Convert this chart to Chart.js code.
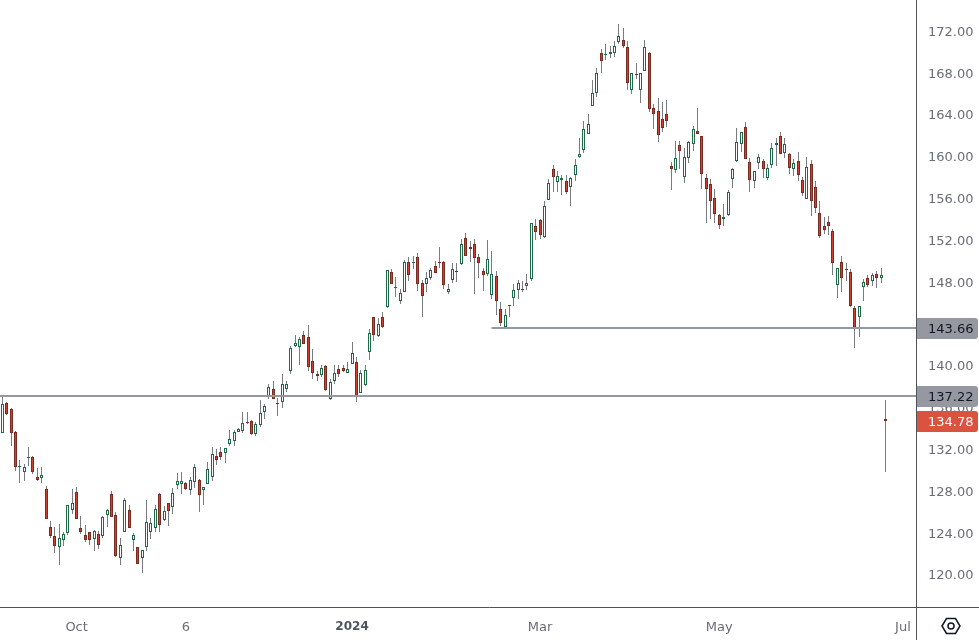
<!DOCTYPE html>
<html>
<head>
<meta charset="utf-8">
<title>Candles</title>
<script src="https://cdn.jsdelivr.net/npm/chart.js@4"></script>
<style>
  html, body { margin: 0; padding: 0; background: #fff; overflow: hidden; }
  canvas { display: block; }
</style>
</head>
<body>
<canvas id="chart" width="979" height="640"></canvas>
<script>
const opens = [
  133.62,136.43,135.85,133.65,130.38,129.89,131.24,131.26,129.35,129.32,
  128.20,124.57,123.70,122.65,123.39,124.06,126.26,127.91,124.47,123.80,
  124.09,123.48,123.90,123.77,125.78,127.72,125.71,121.66,124.15,126.19,
  123.39,122.65,121.66,122.72,124.15,124.53,127.72,125.30,126.86,126.54,
  128.65,128.74,128.77,128.17,128.93,129.06,128.17,128.74,129.41,131.36,
  131.74,131.71,132.57,132.86,133.72,133.81,134.60,134.73,133.46,134.35,
  135.63,137.00,137.77,136.46,136.59,137.83,139.55,141.94,141.79,142.93,
  142.74,140.45,139.23,139.17,139.97,136.88,138.60,139.68,139.78,139.36,
  140.22,140.35,137.45,138.15,141.37,144.65,142.90,144.65,145.68,148.96,
  147.51,146.25,147.11,149.92,149.90,150.40,147.91,147.88,148.45,149.53,
  149.95,149.92,147.11,148.26,149.08,149.73,152.22,151.39,151.64,150.43,
  149.09,148.84,146.83,148.61,145.42,143.77,145.83,146.54,147.31,147.36,
  147.69,148.36,153.36,153.94,152.38,155.92,158.82,157.57,157.83,157.67,
  157.16,158.31,159.97,160.70,162.23,164.91,166.09,169.91,169.80,169.88,
  169.98,171.03,171.16,170.49,166.44,167.92,166.44,168.25,169.91,164.65,
  164.36,163.60,164.08,159.10,158.78,161.11,158.11,159.93,161.27,162.45,
  161.97,157.95,157.38,156.04,154.42,154.03,154.48,157.86,159.65,161.21,
  162.83,159.48,157.66,159.45,159.58,158.01,159.19,161.17,161.97,160.40,
  160.25,158.87,159.58,157.76,156.00,159.29,157.09,154.60,153.36,153.74,
  152.88,147.78,149.91,149.26,148.96,145.51,144.72,147.59,148.38,148.16,
  148.77,148.45,134.95
];
const highs = [
  137.13,136.56,135.98,133.78,131.01,130.62,132.25,131.36,130.24,130.34,
  128.49,125.17,124.60,124.88,124.09,126.70,128.23,128.42,125.65,124.79,
  124.15,124.28,124.21,125.62,126.29,128.04,126.03,123.55,127.37,126.67,
  124.00,122.65,122.37,127.15,125.46,126.70,127.85,126.61,126.86,128.33,
  129.76,129.86,128.93,129.35,130.62,129.16,128.46,130.78,132.22,132.03,
  132.22,132.19,133.88,133.88,134.04,135.56,135.56,134.83,134.60,136.74,
  136.36,138.28,138.56,136.97,139.23,138.56,141.91,142.97,142.74,143.35,
  143.92,141.63,139.52,140.10,140.10,138.76,140.10,140.10,140.10,140.38,
  142.30,140.86,139.62,140.10,143.54,144.65,144.59,145.17,149.18,149.28,
  148.51,147.33,150.11,150.40,150.52,150.81,148.20,148.99,149.37,150.04,
  151.38,150.01,147.81,149.85,149.85,152.15,152.69,151.96,152.15,150.72,
  149.38,152.06,151.00,149.09,146.13,145.46,145.84,147.85,148.23,148.13,
  148.80,153.68,154.07,154.10,155.79,157.86,159.23,158.66,158.27,158.27,
  158.08,159.81,161.78,163.41,164.11,167.36,168.51,170.33,170.81,170.61,
  171.09,172.72,172.34,171.09,168.03,168.99,168.00,171.19,170.01,165.07,
  165.64,165.26,165.45,159.52,161.53,161.53,160.82,161.53,162.93,164.68,
  161.97,158.37,157.89,156.93,154.54,155.50,156.84,158.94,162.77,162.36,
  163.31,159.86,158.68,160.28,159.80,159.32,161.33,161.81,162.38,161.81,
  160.34,159.80,160.47,158.08,159.99,159.70,157.69,155.78,154.25,154.35,
  153.10,149.34,150.52,149.85,149.28,145.74,145.70,148.32,148.70,148.89,
  149.08,149.34,136.74
];
const lows = [
  133.56,135.31,132.38,129.99,128.84,129.03,130.43,129.70,129.03,128.84,
  125.39,123.58,122.14,120.96,122.81,123.86,125.84,125.39,123.96,123.19,
  122.91,122.33,122.52,123.58,124.63,125.59,121.76,120.96,124.15,124.53,
  122.33,121.09,120.23,122.33,123.48,124.15,124.15,125.14,124.73,125.84,
  128.26,127.79,128.14,127.69,128.36,126.06,126.70,128.68,129.03,130.56,
  131.01,130.75,132.38,132.38,133.65,133.55,134.47,133.39,133.30,134.20,
  134.90,136.84,136.84,135.22,136.01,137.54,139.27,141.85,140.13,142.07,
  139.55,138.79,138.60,138.98,137.64,136.78,138.31,138.98,139.46,139.33,
  140.16,136.59,137.45,138.12,140.61,142.39,142.81,143.67,145.58,147.88,
  146.60,145.93,147.05,148.13,149.28,147.21,144.69,147.08,148.23,148.86,
  149.37,147.33,146.92,147.94,148.04,149.66,150.56,149.95,146.92,148.45,
  147.21,148.65,146.44,144.88,143.83,143.77,144.69,145.78,146.44,147.11,
  147.27,148.17,152.09,152.15,152.28,155.92,156.68,156.62,156.39,156.46,
  155.31,157.70,159.90,160.41,162.23,164.91,165.74,168.03,169.27,169.47,
  169.56,170.81,170.42,166.44,166.02,167.46,165.16,168.25,164.30,162.67,
  161.43,162.39,162.87,156.84,158.50,158.88,157.54,159.42,160.57,162.16,
  156.97,153.71,154.06,153.68,153.14,153.43,154.38,157.06,159.55,160.47,
  159.77,156.67,157.06,158.87,157.98,157.79,158.94,159.13,160.28,159.89,
  158.36,158.17,157.69,156.26,155.97,154.35,154.63,152.24,152.62,152.53,
  148.70,146.50,147.08,148.13,145.64,141.72,142.80,146.21,147.59,147.65,
  147.46,147.94,129.88
];
const closes = [
  136.33,135.38,133.56,130.37,130.42,130.31,131.28,129.89,129.13,129.54,
  125.39,123.77,122.81,123.51,123.90,126.67,126.86,125.39,124.15,123.39,
  123.39,124.18,122.91,125.52,126.19,125.59,121.86,122.84,127.15,124.53,
  123.80,121.09,122.37,125.04,124.95,126.29,124.82,126.10,126.16,127.82,
  128.97,128.97,128.26,129.06,130.31,127.69,128.39,130.11,131.55,131.04,
  131.33,132.12,132.98,133.65,133.94,134.51,134.50,133.46,134.41,135.47,
  136.14,137.96,136.88,136.40,138.25,138.25,141.69,142.17,142.55,142.14,
  139.94,139.36,139.08,139.78,137.74,138.44,139.30,139.27,139.55,139.68,
  141.21,137.07,139.30,139.58,143.12,143.00,143.99,143.76,149.15,147.88,
  147.55,146.95,149.92,148.74,149.94,147.88,146.66,148.39,149.15,148.93,
  149.82,147.72,147.33,149.25,149.04,151.64,150.56,151.23,150.37,149.89,
  148.74,150.24,148.80,146.25,144.15,144.85,145.79,147.24,147.91,147.32,
  147.91,153.65,152.85,152.57,155.28,157.48,158.12,158.21,157.96,156.68,
  157.96,159.20,160.25,162.64,163.12,166.09,168.00,169.21,169.84,170.01,
  170.58,171.54,170.65,167.11,168.00,167.88,168.00,170.49,164.62,164.14,
  162.13,162.80,163.47,158.88,159.87,160.60,159.96,161.40,162.64,162.16,
  158.40,156.97,155.82,154.57,153.46,154.22,156.62,158.82,161.40,162.36,
  159.77,157.82,158.62,159.96,158.87,158.91,160.82,161.30,160.31,161.20,
  158.97,159.38,158.30,156.58,159.00,155.81,155.14,152.46,153.04,153.42,
  149.88,149.34,148.38,149.22,145.71,143.66,145.70,148.00,147.78,148.67,
  148.45,148.70,134.78
];

const yTicks = [120,124,128,132,136,140,144,148,152,156,160,164,168,172];
const xTickBars = [17, 42, 80, 123, 164, 206];
const xTickLabels = ['Oct', '6', '2024', 'Mar', 'May', 'Jul'];

const levels = [137.22, 143.66];
const levelStarts = [-1, 111.9];
const tagValues = [143.66, 137.22, 134.78];
const tagColors = ['#9598a1', '#9598a1', '#d9533f'];
const tagTextColors = ['#131722', '#131722', '#ffffff'];

const xMin = -0.526, xMax = 208.99;
const yMin = 116.94, yMax = 175.01;
const axisColor = '#50535e';
const tickColor = '#6a6d78';
const fontFamily = '"DejaVu Sans", sans-serif';

const isUp = closes.map((c, i) => c >= opens[i]);

// chart.js leaves marks on fractional pixels, the candles need crisp edges
const snapCandles = {
  id: 'snapCandles',
  afterDatasetsUpdate(chart) {
    chart.data.datasets.forEach((ds, idx) => {
      const points = chart.getDatasetMeta(idx).data;
      if (ds.type === 'line') {
        points.forEach(el => { el.y = Math.round(el.y + 0.5); });
        return;
      }
      points.forEach(el => {
        el.x = Math.floor(el.x) + 0.5;
        const top = Math.round(Math.min(el.y, el.base));
        const bottom = Math.max(Math.round(Math.max(el.y, el.base)), top + 1);
        el.y = top;
        el.base = bottom;
      });
    });
  }
};

const priceTags = {
  id: 'priceTags',
  afterDraw(chart) {
    const ctx = chart.ctx;
    const y = chart.scales.y;
    const area = chart.chartArea;

    ctx.save();
    // axis lines run out past the plot corner
    ctx.strokeStyle = axisColor;
    ctx.lineWidth = 1;
    ctx.beginPath();
    ctx.moveTo(area.right + 0.5, 0);
    ctx.lineTo(area.right + 0.5, chart.height);
    ctx.moveTo(0, area.bottom + 0.5);
    ctx.lineTo(chart.width, area.bottom + 0.5);
    ctx.stroke();

    tagValues.forEach((v, i) => {
      const py = Math.round(y.getPixelForValue(v) + 0.5);
      ctx.fillStyle = tagColors[i];
      ctx.beginPath();
      ctx.roundRect(area.right + 1, py - 10, 61, 21, [0, 3, 3, 0]);
      ctx.fill();
      ctx.fillStyle = tagTextColors[i];
      ctx.font = '13px ' + fontFamily;
      ctx.textBaseline = 'middle';
      ctx.textAlign = 'left';
      ctx.fillText(v.toFixed(2), area.right + 12, py + 2);
    });

    // logo button in the corner
    const cx = 951, cy = 626;
    ctx.strokeStyle = '#131722';
    ctx.lineWidth = 1.5;
    ctx.beginPath();
    ctx.moveTo(cx - 9, cy);
    ctx.lineTo(cx - 4.5, cy - 7.5);
    ctx.lineTo(cx + 4.5, cy - 7.5);
    ctx.lineTo(cx + 9, cy);
    ctx.lineTo(cx + 4.5, cy + 7.5);
    ctx.lineTo(cx - 4.5, cy + 7.5);
    ctx.closePath();
    ctx.moveTo(cx + 3, cy);
    ctx.arc(cx, cy, 3, 0, Math.PI * 2);
    ctx.stroke();
    ctx.restore();
  }
};

new Chart(document.getElementById('chart'), {
  data: {
    datasets: [
      {
        type: 'bar',
        label: 'Wicks',
        order: 3,
        grouped: false,
        barThickness: 1,
        inflateAmount: 0,
        backgroundColor: '#787b80',
        data: highs.map((h, i) => ({ x: i, y: [lows[i], h] }))
      },
      {
        type: 'bar',
        label: 'Bodies',
        order: 2,
        grouped: false,
        barThickness: 3,
        inflateAmount: 0,
        borderWidth: 1,
        borderSkipped: false,
        backgroundColor: isUp.map(u => u ? '#ffffff' : '#d13f2e'),
        borderColor: isUp.map(u => u ? '#1f6a48' : '#7a2a1f'),
        data: opens.map((o, i) => ({ x: i, y: [o, closes[i]] }))
      },
      {
        type: 'line',
        label: 'Level 137.22',
        order: 1,
        borderColor: '#9598a1',
        borderWidth: 2,
        pointRadius: 0,
        data: [{ x: levelStarts[0], y: levels[0] }, { x: xMax, y: levels[0] }]
      },
      {
        type: 'line',
        label: 'Level 143.66',
        order: 1,
        borderColor: '#9598a1',
        borderWidth: 2,
        pointRadius: 0,
        data: [{ x: levelStarts[1], y: levels[1] }, { x: xMax, y: levels[1] }]
      }
    ]
  },
  options: {
    responsive: false,
    animation: false,
    layout: { padding: 0 },
    plugins: { legend: { display: false }, tooltip: { enabled: false } },
    scales: {
      x: {
        type: 'linear',
        offset: false,
        min: xMin,
        max: xMax,
        grid: { display: false, drawTicks: false, offset: false },
        border: { display: false },
        afterBuildTicks: scale => { scale.ticks = xTickBars.map(v => ({ value: v })); },
        afterFit: scale => {
          scale.height = 33;
          scale.paddingLeft = 0;
          scale.paddingRight = 0;
        },
        ticks: {
          autoSkip: false,
          maxRotation: 0,
          padding: 13,
          color: ctx => ctx.index === 2 ? axisColor : tickColor,
          font: ctx => ({ family: fontFamily, size: ctx.index === 2 ? 12 : 13, weight: ctx.index === 2 ? 'bold' : 'normal' }),
          callback: (value, index) => xTickLabels[index]
        }
      },
      y: {
        position: 'right',
        min: yMin,
        max: yMax,
        grid: { display: false, drawTicks: false },
        border: { display: false },
        afterBuildTicks: scale => { scale.ticks = yTicks.map(v => ({ value: v })); },
        afterFit: scale => {
          scale.width = 63;
          scale.paddingTop = 0;
          scale.paddingBottom = 0;
        },
        ticks: {
          autoSkip: false,
          padding: 12,
          labelOffset: 1,
          color: tickColor,
          font: { family: fontFamily, size: 13 },
          callback: value => value.toFixed(2)
        }
      }
    }
  },
  plugins: [snapCandles, priceTags]
});
</script>
</body>
</html>
